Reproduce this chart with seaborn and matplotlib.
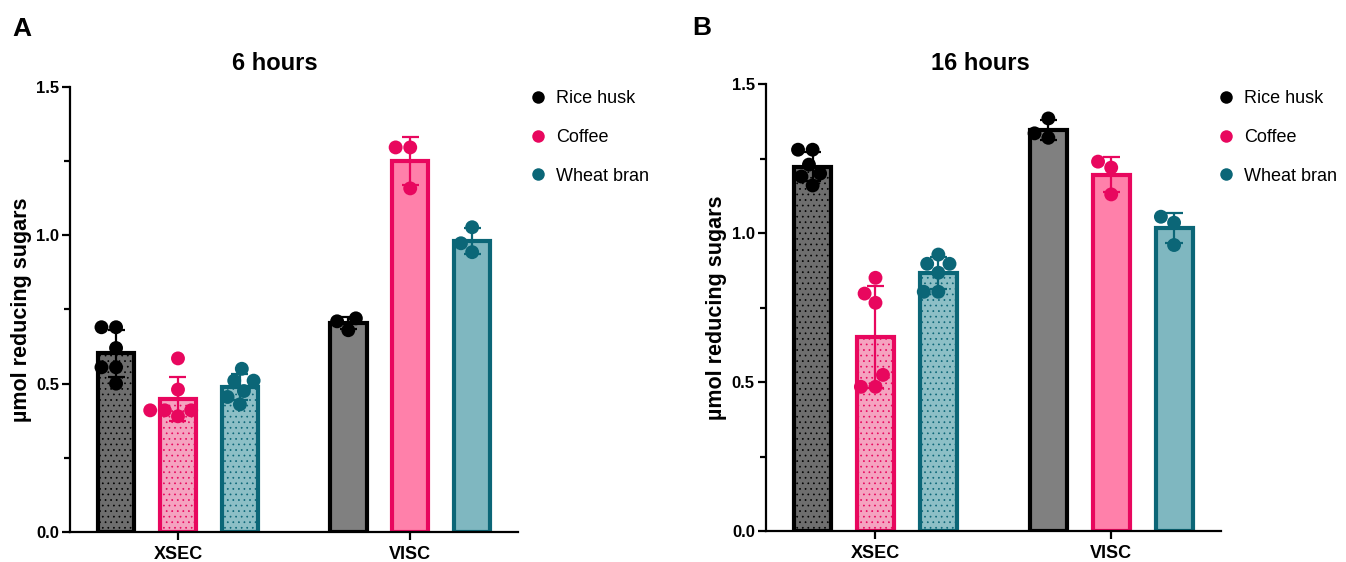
import matplotlib
matplotlib.use("Agg")
import numpy as np
import pandas as pd
import matplotlib.pyplot as plt
import seaborn as sns
from matplotlib.lines import Line2D
from matplotlib.ticker import AutoMinorLocator, FormatStrFormatter

sns.set_style("ticks")
plt.rcParams["font.family"] = ["Liberation Sans", "DejaVu Sans"]
plt.rcParams["hatch.linewidth"] = 0.5
for key in ["text.color", "axes.labelcolor", "xtick.color", "ytick.color", "axes.edgecolor"]:
    plt.rcParams[key] = "black"

# ============== DATA ==============
processes = ["XSEC", "VISC"]
substrates = ["Rice husk", "Coffee", "Wheat bran"]

edge_colors = ["#000000", "#E8075E", "#0B6677"]
fill_visc = ["#808080", "#FF80AA", "#7FB7C0"]
fill_xsec = ["#6E6E6E", "#F5A3C0", "#8DBFC6"]

# 6 hours, replicate values
rice_husk_6h = {"XSEC": [0.69, 0.69, 0.62, 0.555, 0.555, 0.50], "VISC": [0.72, 0.71, 0.68]}
coffee_6h = {"XSEC": [0.585, 0.48, 0.41, 0.41, 0.41, 0.39], "VISC": [1.296, 1.296, 1.158]}
wheat_bran_6h = {"XSEC": [0.55, 0.51, 0.51, 0.475, 0.455, 0.43], "VISC": [1.027, 0.973, 0.943]}

# 16 hours, replicate values
rice_husk_16h = {"XSEC": [1.28, 1.28, 1.23, 1.20, 1.19, 1.16], "VISC": [1.385, 1.335, 1.32]}
coffee_16h = {"XSEC": [0.85, 0.797, 0.766, 0.524, 0.484, 0.484], "VISC": [1.24, 1.22, 1.13]}
wheat_bran_16h = {"XSEC": [0.928, 0.897, 0.897, 0.867, 0.803, 0.803], "VISC": [1.055, 1.035, 0.96]}

y_ticks = [0.0, 0.5, 1.0, 1.5]


def to_frame(series):
    rows = []
    for name, vals in zip(substrates, series):
        for proc in processes:
            for v in vals[proc]:
                rows.append({"process": proc, "substrate": name, "value": v})
    return pd.DataFrame(rows)


def draw_panel(ax, df):
    sns.barplot(data=df, x="process", y="value", hue="substrate",
                order=processes, hue_order=substrates,
                palette=dict(zip(substrates, fill_visc)),
                errorbar="sd", capsize=0.22, gap=0.41, linewidth=3,
                err_kws={"linewidth": 1.6}, legend=False, ax=ax)

    # recolour bars: edge colour per substrate, dotted fill for XSEC
    centers = []
    for i, cont in enumerate(ax.containers):
        for bar in cont:
            xc = bar.get_x() + bar.get_width() / 2
            centers.append((xc, i))
            bar.set_edgecolor(edge_colors[i])
            if xc < 0.5:
                bar.set_facecolor(fill_xsec[i])
                bar.set_hatch("...")
            else:
                bar.set_facecolor(fill_visc[i])

    # error bars take the edge colour of their bar
    for line in ax.lines:
        xc = np.nanmean(line.get_xdata())
        i = min(centers, key=lambda c: abs(c[0] - xc))[1]
        line.set_color(edge_colors[i])
        line.set_solid_capstyle("butt")

    sns.swarmplot(data=df, x="process", y="value", hue="substrate",
                  order=processes, hue_order=substrates, dodge=True,
                  palette=dict(zip(substrates, edge_colors)), size=10,
                  linewidth=0, legend=False, warn_thresh=1, ax=ax)

    ax.set_xlim(-0.465, 1.465)
    ax.set_ylim(0, 1.5)
    ax.set_yticks(y_ticks)
    ax.yaxis.set_major_formatter(FormatStrFormatter("%.1f"))
    ax.yaxis.set_minor_locator(AutoMinorLocator(2))
    ax.set_xlabel("")
    ax.set_ylabel("µmol reducing sugars", fontsize=15.5, fontweight="bold", labelpad=3)
    ax.tick_params(axis="both", which="major", length=6, width=1.6, pad=2)
    ax.tick_params(axis="y", which="minor", length=4, width=1.6)
    ax.tick_params(axis="x", labelsize=13, pad=4)
    ax.tick_params(axis="y", labelsize=12)
    for lab in ax.get_xticklabels() + ax.get_yticklabels():
        lab.set_fontweight("bold")
    for side in ["left", "bottom"]:
        ax.spines[side].set_linewidth(1.6)
    sns.despine(ax=ax)


fig = plt.figure(figsize=(13.46, 5.62), dpi=100)
ax_a = fig.add_axes([0.052, 0.0534, 0.333, 0.792])
ax_b = fig.add_axes([0.569, 0.0552, 0.338, 0.795])

draw_panel(ax_a, to_frame([rice_husk_6h, coffee_6h, wheat_bran_6h]))
draw_panel(ax_b, to_frame([rice_husk_16h, coffee_16h, wheat_bran_16h]))

fig.text(0.2043, 0.887, "6 hours", fontsize=17, fontweight="bold", ha="center", va="center")
fig.text(0.728, 0.887, "16 hours", fontsize=17, fontweight="bold", ha="center", va="center")
fig.text(0.0163, 0.948, "A", fontsize=19, fontweight="bold", ha="center", va="center")
fig.text(0.5215, 0.950, "B", fontsize=19, fontweight="bold", ha="center", va="center")

handles = [Line2D([], [], linestyle="", marker="o", markersize=9,
                  markerfacecolor=c, markeredgewidth=0) for c in edge_colors]
for x0 in [0.393, 0.904]:
    fig.legend(handles, substrates, loc="upper left", bbox_to_anchor=(x0, 0.839),
               frameon=False, fontsize=13, handlelength=1.0, handletextpad=0.5,
               labelspacing=1.2, borderpad=0, borderaxespad=0)

fig.savefig("out.png", dpi=100)
